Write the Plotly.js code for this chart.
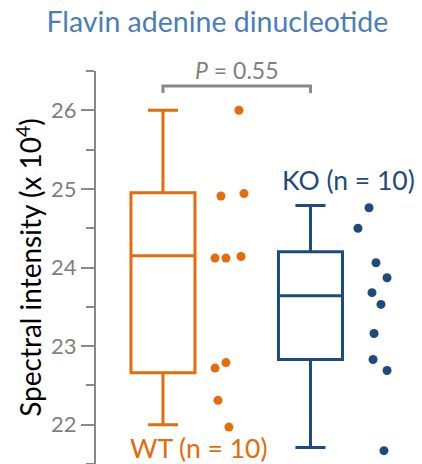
<!DOCTYPE html>
<html>
<head>
<meta charset="utf-8">
<script src="https://cdn.plot.ly/plotly-3.0.1.min.js"></script>
<style>html,body{margin:0;padding:0;background:#fff;}#chart{width:422px;height:464px;}</style>
</head>
<body>
<div id="chart"></div>
<script>
// Groups
const groups = ["WT", "KO"];
const groupLabels = ["WT (n = 10)", "KO (n = 10)"];

// Box statistics (x 10^4)
const wtStats = {lower: 22.0, q1: 22.66, median: 24.15, q3: 24.95, upper: 26.0};
const koStats = {lower: 21.71, q1: 22.83, median: 23.64, q3: 24.2, upper: 24.79};

// Individual points (x 10^4)
const wtValues = [26.0, 24.94, 24.91, 24.14, 24.12, 24.12, 22.79, 22.72, 22.31, 21.97];
const koValues = [24.76, 24.5, 24.06, 23.87, 23.68, 23.53, 23.16, 22.83, 22.69, 21.67];
// horizontal scatter of points (offset from group position)
const wtJitter = [0.515, 0.549, 0.393, 0.529, 0.353, 0.427, 0.427, 0.353, 0.373, 0.447];
const koJitter = [0.397, 0.322, 0.444, 0.519, 0.417, 0.478, 0.431, 0.424, 0.519, 0.498];

const pValue = "0.55";
const yTicks = [22, 23, 24, 25, 26];

const orange = "#E46C0A";
const blue = "#1F4A7E";
const gray = "#898989";
const font = "Lato, 'Open Sans', sans-serif";

function boxTrace(pos, s, color) {
  return {
    type: "box", x: [pos],
    lowerfence: [s.lower], q1: [s.q1], median: [s.median], q3: [s.q3], upperfence: [s.upper],
    width: 0.434, whiskerwidth: 0.47,
    fillcolor: "rgba(255,255,255,0)",
    line: {color: color, width: 3},
    boxpoints: false, hoverinfo: "skip", showlegend: false
  };
}
function pointTrace(pos, vals, jit, color) {
  return {
    type: "scatter", mode: "markers",
    x: jit.map(j => pos + j), y: vals,
    marker: {color: color, size: 9},
    hoverinfo: "skip", showlegend: false
  };
}

const data = [
  boxTrace(0, wtStats, orange),
  boxTrace(1, koStats, blue),
  pointTrace(0, wtValues, wtJitter, orange),
  pointTrace(1, koValues, koJitter, blue)
];

const layout = {
  width: 422, height: 464,
  margin: {l: 96, r: 0, t: 71, b: 0, pad: 0, autoexpand: false},
  paper_bgcolor: "#fff", plot_bgcolor: "#fff",
  font: {family: font},
  title: {
    text: "Flavin adenine dinucleotide",
    font: {family: font, size: 28.5, color: "#4A7EBB"},
    xref: "container", x: 0.515, xanchor: "center",
    yref: "container", y: 0.952, yanchor: "middle"
  },
  xaxis: {range: [-0.454, 1.756], visible: false, fixedrange: true},
  yaxis: {
    range: [21.5, 26.5], automargin: false,
    tickvals: yTicks, ticktext: yTicks.map(String),
    ticks: "outside", ticklen: 13, tickwidth: 2, tickcolor: gray,
    showline: true, linecolor: gray, linewidth: 2,
    showgrid: false, zeroline: false,
    tickfont: {family: font, size: 22, color: "#7F7F7F"},
    minor: {dtick: 0.5, ticks: "outside", ticklen: 8, tickwidth: 2, tickcolor: gray, showgrid: false},
    title: {text: "Spectral intensity (x 10<sup>4</sup>)", font: {family: font, size: 28, color: "#000"}, standoff: 1},
    fixedrange: true
  },
  shapes: [{
    type: "path", xref: "x", yref: "y",
    path: "M 0 26.22 L 0 26.31 L 1 26.31 L 1 26.22",
    line: {color: gray, width: 3}
  }],
  annotations: [
    {text: "<i>P</i> = " + pValue, x: 0.5, y: 1.003, xref: "x", yref: "paper", showarrow: false,
     font: {family: font, size: 23, color: "#7F7F7F"}, xanchor: "center", yanchor: "middle"},
    {text: groupLabels[1], x: 1.261, y: 25.113, xref: "x", yref: "y", showarrow: false,
     font: {family: font, size: 26.5, color: blue}, xanchor: "center", yanchor: "middle"},
    {text: groupLabels[0], x: 0.244, y: 21.70, xref: "x", yref: "y", showarrow: false,
     font: {family: font, size: 26.5, color: orange}, xanchor: "center", yanchor: "middle"}
  ]
};

Plotly.newPlot("chart", data, layout, {displayModeBar: false, staticPlot: true});
</script>
</body>
</html>
